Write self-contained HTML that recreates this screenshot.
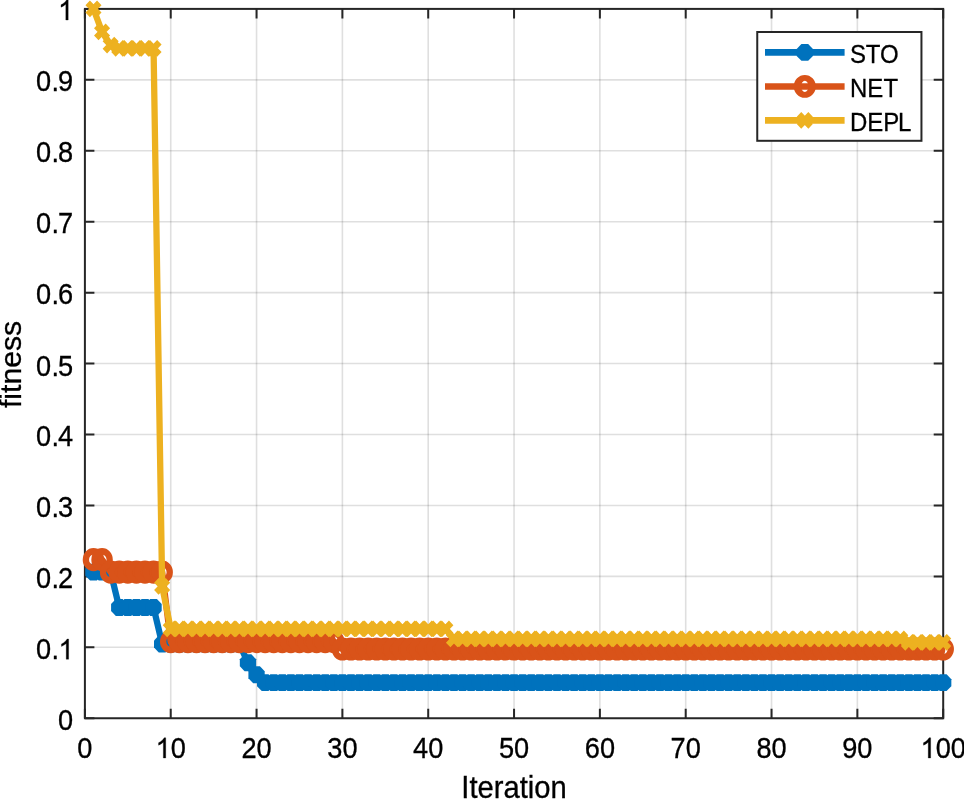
<!DOCTYPE html>
<html><head><meta charset="utf-8"><style>
html,body{margin:0;padding:0;background:#fff;width:964px;height:799px;overflow:hidden}
svg{display:block;will-change:transform;font-family:"Liberation Sans",sans-serif}
</style></head><body>
<svg width="964" height="799" viewBox="0 0 964 799">
<rect width="964" height="799" fill="#fff"/>
<path d="M170.73 8.90V718.25M256.56 8.90V718.25M342.39 8.90V718.25M428.22 8.90V718.25M514.05 8.90V718.25M599.88 8.90V718.25M685.71 8.90V718.25M771.54 8.90V718.25M857.37 8.90V718.25" stroke="#262626" stroke-opacity="0.15" stroke-width="1.6" fill="none"/>
<path d="M84.90 647.32H943.20M84.90 576.38H943.20M84.90 505.44H943.20M84.90 434.51H943.20M84.90 363.57H943.20M84.90 292.64H943.20M84.90 221.71H943.20M84.90 150.77H943.20M84.90 79.83H943.20" stroke="#262626" stroke-opacity="0.15" stroke-width="1.6" fill="none"/>
<defs>
<polygon id="mo" points="8.150,3.376 3.376,8.150 -3.376,8.150 -8.150,3.376 -8.150,-3.376 -3.376,-8.150 3.376,-8.150 8.150,-3.376" fill="#0072BD"/>
<ellipse id="mc" rx="7.6" ry="8.0" fill="none" stroke="#D95319" stroke-width="6.3"/>
<path id="mx" d="M-5.8 -5.8L5.8 5.8M-5.8 5.8L5.8 -5.8" stroke="#EDB120" stroke-width="6.3" fill="none"/>
<path id="mcl" fill="#D95319" fill-rule="evenodd" d="M-11 0a11 10.962 0 1 0 22 0a11 10.962 0 1 0 -22 0ZM-3.7 0a3.7 5.385 0 1 0 7.4 0a3.7 5.385 0 1 0 -7.4 0Z"/>
</defs>
<rect x="84.90" y="8.90" width="858.30" height="709.35" fill="none" stroke="#262626" stroke-width="2"/>
<path d="M84.90 718.25v-9.5M84.90 8.90v9.5M170.73 718.25v-9.5M170.73 8.90v9.5M256.56 718.25v-9.5M256.56 8.90v9.5M342.39 718.25v-9.5M342.39 8.90v9.5M428.22 718.25v-9.5M428.22 8.90v9.5M514.05 718.25v-9.5M514.05 8.90v9.5M599.88 718.25v-9.5M599.88 8.90v9.5M685.71 718.25v-9.5M685.71 8.90v9.5M771.54 718.25v-9.5M771.54 8.90v9.5M857.37 718.25v-9.5M857.37 8.90v9.5M943.20 718.25v-9.5M943.20 8.90v9.5M84.90 718.25h9.5M943.20 718.25h-9.5M84.90 647.32h9.5M943.20 647.32h-9.5M84.90 576.38h9.5M943.20 576.38h-9.5M84.90 505.44h9.5M943.20 505.44h-9.5M84.90 434.51h9.5M943.20 434.51h-9.5M84.90 363.57h9.5M943.20 363.57h-9.5M84.90 292.64h9.5M943.20 292.64h-9.5M84.90 221.71h9.5M943.20 221.71h-9.5M84.90 150.77h9.5M943.20 150.77h-9.5M84.90 79.83h9.5M943.20 79.83h-9.5M84.90 8.90h9.5M943.20 8.90h-9.5" stroke="#262626" stroke-width="2" fill="none"/>
<g transform="scale(1 1.04)">
<polyline points="93.48,550.12 102.07,550.12 110.65,550.12 119.23,584.15 127.81,584.15 136.40,584.15 144.98,584.15 153.56,584.15 162.15,619.14 170.73,619.14 179.31,619.14 187.90,619.14 196.48,619.14 205.06,619.14 213.65,619.14 222.23,619.14 230.81,619.14 239.39,619.14 247.98,637.29 256.56,648.81 265.14,656.39 273.73,656.39 282.31,656.39 290.89,656.39 299.48,656.39 308.06,656.39 316.64,656.39 325.22,656.39 333.81,656.39 342.39,656.39 350.97,656.39 359.56,656.39 368.14,656.39 376.72,656.39 385.31,656.39 393.89,656.39 402.47,656.39 411.05,656.39 419.64,656.39 428.22,656.39 436.80,656.39 445.39,656.39 453.97,656.39 462.55,656.39 471.13,656.39 479.72,656.39 488.30,656.39 496.88,656.39 505.47,656.39 514.05,656.39 522.63,656.39 531.22,656.39 539.80,656.39 548.38,656.39 556.97,656.39 565.55,656.39 574.13,656.39 582.71,656.39 591.30,656.39 599.88,656.39 608.46,656.39 617.05,656.39 625.63,656.39 634.21,656.39 642.80,656.39 651.38,656.39 659.96,656.39 668.54,656.39 677.13,656.39 685.71,656.39 694.29,656.39 702.88,656.39 711.46,656.39 720.04,656.39 728.62,656.39 737.21,656.39 745.79,656.39 754.37,656.39 762.96,656.39 771.54,656.39 780.12,656.39 788.71,656.39 797.29,656.39 805.87,656.39 814.45,656.39 823.04,656.39 831.62,656.39 840.20,656.39 848.79,656.39 857.37,656.39 865.95,656.39 874.54,656.39 883.12,656.39 891.70,656.39 900.28,656.39 908.87,656.39 917.45,656.39 926.03,656.39 934.62,656.39 943.20,656.39" fill="none" stroke="#0072BD" stroke-width="6.3" stroke-linejoin="round"/>
<use href="#mo" x="93.48" y="550.12"/>
<use href="#mo" x="102.07" y="550.12"/>
<use href="#mo" x="110.65" y="550.12"/>
<use href="#mo" x="119.23" y="584.15"/>
<use href="#mo" x="127.81" y="584.15"/>
<use href="#mo" x="136.40" y="584.15"/>
<use href="#mo" x="144.98" y="584.15"/>
<use href="#mo" x="153.56" y="584.15"/>
<use href="#mo" x="162.15" y="619.14"/>
<use href="#mo" x="170.73" y="619.14"/>
<use href="#mo" x="179.31" y="619.14"/>
<use href="#mo" x="187.90" y="619.14"/>
<use href="#mo" x="196.48" y="619.14"/>
<use href="#mo" x="205.06" y="619.14"/>
<use href="#mo" x="213.65" y="619.14"/>
<use href="#mo" x="222.23" y="619.14"/>
<use href="#mo" x="230.81" y="619.14"/>
<use href="#mo" x="239.39" y="619.14"/>
<use href="#mo" x="247.98" y="637.29"/>
<use href="#mo" x="256.56" y="648.81"/>
<use href="#mo" x="265.14" y="656.39"/>
<use href="#mo" x="273.73" y="656.39"/>
<use href="#mo" x="282.31" y="656.39"/>
<use href="#mo" x="290.89" y="656.39"/>
<use href="#mo" x="299.48" y="656.39"/>
<use href="#mo" x="308.06" y="656.39"/>
<use href="#mo" x="316.64" y="656.39"/>
<use href="#mo" x="325.22" y="656.39"/>
<use href="#mo" x="333.81" y="656.39"/>
<use href="#mo" x="342.39" y="656.39"/>
<use href="#mo" x="350.97" y="656.39"/>
<use href="#mo" x="359.56" y="656.39"/>
<use href="#mo" x="368.14" y="656.39"/>
<use href="#mo" x="376.72" y="656.39"/>
<use href="#mo" x="385.31" y="656.39"/>
<use href="#mo" x="393.89" y="656.39"/>
<use href="#mo" x="402.47" y="656.39"/>
<use href="#mo" x="411.05" y="656.39"/>
<use href="#mo" x="419.64" y="656.39"/>
<use href="#mo" x="428.22" y="656.39"/>
<use href="#mo" x="436.80" y="656.39"/>
<use href="#mo" x="445.39" y="656.39"/>
<use href="#mo" x="453.97" y="656.39"/>
<use href="#mo" x="462.55" y="656.39"/>
<use href="#mo" x="471.13" y="656.39"/>
<use href="#mo" x="479.72" y="656.39"/>
<use href="#mo" x="488.30" y="656.39"/>
<use href="#mo" x="496.88" y="656.39"/>
<use href="#mo" x="505.47" y="656.39"/>
<use href="#mo" x="514.05" y="656.39"/>
<use href="#mo" x="522.63" y="656.39"/>
<use href="#mo" x="531.22" y="656.39"/>
<use href="#mo" x="539.80" y="656.39"/>
<use href="#mo" x="548.38" y="656.39"/>
<use href="#mo" x="556.97" y="656.39"/>
<use href="#mo" x="565.55" y="656.39"/>
<use href="#mo" x="574.13" y="656.39"/>
<use href="#mo" x="582.71" y="656.39"/>
<use href="#mo" x="591.30" y="656.39"/>
<use href="#mo" x="599.88" y="656.39"/>
<use href="#mo" x="608.46" y="656.39"/>
<use href="#mo" x="617.05" y="656.39"/>
<use href="#mo" x="625.63" y="656.39"/>
<use href="#mo" x="634.21" y="656.39"/>
<use href="#mo" x="642.80" y="656.39"/>
<use href="#mo" x="651.38" y="656.39"/>
<use href="#mo" x="659.96" y="656.39"/>
<use href="#mo" x="668.54" y="656.39"/>
<use href="#mo" x="677.13" y="656.39"/>
<use href="#mo" x="685.71" y="656.39"/>
<use href="#mo" x="694.29" y="656.39"/>
<use href="#mo" x="702.88" y="656.39"/>
<use href="#mo" x="711.46" y="656.39"/>
<use href="#mo" x="720.04" y="656.39"/>
<use href="#mo" x="728.62" y="656.39"/>
<use href="#mo" x="737.21" y="656.39"/>
<use href="#mo" x="745.79" y="656.39"/>
<use href="#mo" x="754.37" y="656.39"/>
<use href="#mo" x="762.96" y="656.39"/>
<use href="#mo" x="771.54" y="656.39"/>
<use href="#mo" x="780.12" y="656.39"/>
<use href="#mo" x="788.71" y="656.39"/>
<use href="#mo" x="797.29" y="656.39"/>
<use href="#mo" x="805.87" y="656.39"/>
<use href="#mo" x="814.45" y="656.39"/>
<use href="#mo" x="823.04" y="656.39"/>
<use href="#mo" x="831.62" y="656.39"/>
<use href="#mo" x="840.20" y="656.39"/>
<use href="#mo" x="848.79" y="656.39"/>
<use href="#mo" x="857.37" y="656.39"/>
<use href="#mo" x="865.95" y="656.39"/>
<use href="#mo" x="874.54" y="656.39"/>
<use href="#mo" x="883.12" y="656.39"/>
<use href="#mo" x="891.70" y="656.39"/>
<use href="#mo" x="900.28" y="656.39"/>
<use href="#mo" x="908.87" y="656.39"/>
<use href="#mo" x="917.45" y="656.39"/>
<use href="#mo" x="926.03" y="656.39"/>
<use href="#mo" x="934.62" y="656.39"/>
<use href="#mo" x="943.20" y="656.39"/>
<polyline points="93.48,538.18 102.07,538.18 110.65,550.19 119.23,550.19 127.81,550.19 136.40,550.19 144.98,550.19 153.56,550.19 162.15,550.19 170.73,616.89 179.31,616.89 187.90,616.89 196.48,616.89 205.06,616.89 213.65,616.89 222.23,616.89 230.81,616.89 239.39,616.89 247.98,616.89 256.56,616.89 265.14,616.89 273.73,616.89 282.31,616.89 290.89,616.89 299.48,616.89 308.06,616.89 316.64,616.89 325.22,616.89 333.81,616.89 342.39,624.06 350.97,624.06 359.56,624.06 368.14,624.06 376.72,624.06 385.31,624.06 393.89,624.06 402.47,624.06 411.05,624.06 419.64,624.06 428.22,624.06 436.80,624.06 445.39,624.06 453.97,624.06 462.55,624.06 471.13,624.06 479.72,624.06 488.30,624.06 496.88,624.06 505.47,624.06 514.05,624.06 522.63,624.06 531.22,624.06 539.80,624.06 548.38,624.06 556.97,624.06 565.55,624.06 574.13,624.06 582.71,624.06 591.30,624.06 599.88,624.06 608.46,624.06 617.05,624.06 625.63,624.06 634.21,624.06 642.80,624.06 651.38,624.06 659.96,624.06 668.54,624.06 677.13,624.06 685.71,624.06 694.29,624.06 702.88,624.06 711.46,624.06 720.04,624.06 728.62,624.06 737.21,624.06 745.79,624.06 754.37,624.06 762.96,624.06 771.54,624.06 780.12,624.06 788.71,624.06 797.29,624.06 805.87,624.06 814.45,624.06 823.04,624.06 831.62,624.06 840.20,624.06 848.79,624.06 857.37,624.06 865.95,624.06 874.54,624.06 883.12,624.06 891.70,624.06 900.28,624.06 908.87,624.06 917.45,624.06 926.03,624.06 934.62,624.06 943.20,624.06" fill="none" stroke="#D95319" stroke-width="6.3" stroke-linejoin="round"/>
<use href="#mc" x="93.48" y="538.18"/>
<use href="#mc" x="102.07" y="538.18"/>
<use href="#mc" x="110.65" y="550.19"/>
<use href="#mc" x="119.23" y="550.19"/>
<use href="#mc" x="127.81" y="550.19"/>
<use href="#mc" x="136.40" y="550.19"/>
<use href="#mc" x="144.98" y="550.19"/>
<use href="#mc" x="153.56" y="550.19"/>
<use href="#mc" x="162.15" y="550.19"/>
<use href="#mc" x="170.73" y="616.89"/>
<use href="#mc" x="179.31" y="616.89"/>
<use href="#mc" x="187.90" y="616.89"/>
<use href="#mc" x="196.48" y="616.89"/>
<use href="#mc" x="205.06" y="616.89"/>
<use href="#mc" x="213.65" y="616.89"/>
<use href="#mc" x="222.23" y="616.89"/>
<use href="#mc" x="230.81" y="616.89"/>
<use href="#mc" x="239.39" y="616.89"/>
<use href="#mc" x="247.98" y="616.89"/>
<use href="#mc" x="256.56" y="616.89"/>
<use href="#mc" x="265.14" y="616.89"/>
<use href="#mc" x="273.73" y="616.89"/>
<use href="#mc" x="282.31" y="616.89"/>
<use href="#mc" x="290.89" y="616.89"/>
<use href="#mc" x="299.48" y="616.89"/>
<use href="#mc" x="308.06" y="616.89"/>
<use href="#mc" x="316.64" y="616.89"/>
<use href="#mc" x="325.22" y="616.89"/>
<use href="#mc" x="333.81" y="616.89"/>
<use href="#mc" x="342.39" y="624.06"/>
<use href="#mc" x="350.97" y="624.06"/>
<use href="#mc" x="359.56" y="624.06"/>
<use href="#mc" x="368.14" y="624.06"/>
<use href="#mc" x="376.72" y="624.06"/>
<use href="#mc" x="385.31" y="624.06"/>
<use href="#mc" x="393.89" y="624.06"/>
<use href="#mc" x="402.47" y="624.06"/>
<use href="#mc" x="411.05" y="624.06"/>
<use href="#mc" x="419.64" y="624.06"/>
<use href="#mc" x="428.22" y="624.06"/>
<use href="#mc" x="436.80" y="624.06"/>
<use href="#mc" x="445.39" y="624.06"/>
<use href="#mc" x="453.97" y="624.06"/>
<use href="#mc" x="462.55" y="624.06"/>
<use href="#mc" x="471.13" y="624.06"/>
<use href="#mc" x="479.72" y="624.06"/>
<use href="#mc" x="488.30" y="624.06"/>
<use href="#mc" x="496.88" y="624.06"/>
<use href="#mc" x="505.47" y="624.06"/>
<use href="#mc" x="514.05" y="624.06"/>
<use href="#mc" x="522.63" y="624.06"/>
<use href="#mc" x="531.22" y="624.06"/>
<use href="#mc" x="539.80" y="624.06"/>
<use href="#mc" x="548.38" y="624.06"/>
<use href="#mc" x="556.97" y="624.06"/>
<use href="#mc" x="565.55" y="624.06"/>
<use href="#mc" x="574.13" y="624.06"/>
<use href="#mc" x="582.71" y="624.06"/>
<use href="#mc" x="591.30" y="624.06"/>
<use href="#mc" x="599.88" y="624.06"/>
<use href="#mc" x="608.46" y="624.06"/>
<use href="#mc" x="617.05" y="624.06"/>
<use href="#mc" x="625.63" y="624.06"/>
<use href="#mc" x="634.21" y="624.06"/>
<use href="#mc" x="642.80" y="624.06"/>
<use href="#mc" x="651.38" y="624.06"/>
<use href="#mc" x="659.96" y="624.06"/>
<use href="#mc" x="668.54" y="624.06"/>
<use href="#mc" x="677.13" y="624.06"/>
<use href="#mc" x="685.71" y="624.06"/>
<use href="#mc" x="694.29" y="624.06"/>
<use href="#mc" x="702.88" y="624.06"/>
<use href="#mc" x="711.46" y="624.06"/>
<use href="#mc" x="720.04" y="624.06"/>
<use href="#mc" x="728.62" y="624.06"/>
<use href="#mc" x="737.21" y="624.06"/>
<use href="#mc" x="745.79" y="624.06"/>
<use href="#mc" x="754.37" y="624.06"/>
<use href="#mc" x="762.96" y="624.06"/>
<use href="#mc" x="771.54" y="624.06"/>
<use href="#mc" x="780.12" y="624.06"/>
<use href="#mc" x="788.71" y="624.06"/>
<use href="#mc" x="797.29" y="624.06"/>
<use href="#mc" x="805.87" y="624.06"/>
<use href="#mc" x="814.45" y="624.06"/>
<use href="#mc" x="823.04" y="624.06"/>
<use href="#mc" x="831.62" y="624.06"/>
<use href="#mc" x="840.20" y="624.06"/>
<use href="#mc" x="848.79" y="624.06"/>
<use href="#mc" x="857.37" y="624.06"/>
<use href="#mc" x="865.95" y="624.06"/>
<use href="#mc" x="874.54" y="624.06"/>
<use href="#mc" x="883.12" y="624.06"/>
<use href="#mc" x="891.70" y="624.06"/>
<use href="#mc" x="900.28" y="624.06"/>
<use href="#mc" x="908.87" y="624.06"/>
<use href="#mc" x="917.45" y="624.06"/>
<use href="#mc" x="926.03" y="624.06"/>
<use href="#mc" x="934.62" y="624.06"/>
<use href="#mc" x="943.20" y="624.06"/>
<polyline points="93.48,8.56 102.07,30.66 110.65,43.34 119.23,46.48 127.81,46.48 136.40,46.48 144.98,46.48 153.56,46.48 162.15,563.83 170.73,604.75 179.31,604.75 187.90,604.75 196.48,604.75 205.06,604.75 213.65,604.75 222.23,604.75 230.81,604.75 239.39,604.75 247.98,604.75 256.56,604.75 265.14,604.75 273.73,604.75 282.31,604.75 290.89,604.75 299.48,604.75 308.06,604.75 316.64,604.75 325.22,604.75 333.81,604.75 342.39,604.75 350.97,604.75 359.56,604.75 368.14,604.75 376.72,604.75 385.31,604.75 393.89,604.75 402.47,604.75 411.05,604.75 419.64,604.75 428.22,604.75 436.80,604.75 445.39,604.75 453.97,614.37 462.55,614.37 471.13,614.37 479.72,614.37 488.30,614.37 496.88,614.37 505.47,614.37 514.05,614.37 522.63,614.37 531.22,614.37 539.80,614.37 548.38,614.37 556.97,614.37 565.55,614.37 574.13,614.37 582.71,614.37 591.30,614.37 599.88,614.37 608.46,614.37 617.05,614.37 625.63,614.37 634.21,614.37 642.80,614.37 651.38,614.37 659.96,614.37 668.54,614.37 677.13,614.37 685.71,614.37 694.29,614.37 702.88,614.37 711.46,614.37 720.04,614.37 728.62,614.37 737.21,614.37 745.79,614.37 754.37,614.37 762.96,614.37 771.54,614.37 780.12,614.37 788.71,614.37 797.29,614.37 805.87,614.37 814.45,614.37 823.04,614.37 831.62,614.37 840.20,614.37 848.79,614.37 857.37,614.37 865.95,614.37 874.54,614.37 883.12,614.37 891.70,614.37 900.28,614.37 908.87,617.58 917.45,617.58 926.03,617.58 934.62,617.58 943.20,617.58" fill="none" stroke="#EDB120" stroke-width="6.3" stroke-linejoin="round"/>
<use href="#mx" x="93.48" y="8.56"/>
<use href="#mx" x="102.07" y="30.66"/>
<use href="#mx" x="110.65" y="43.34"/>
<use href="#mx" x="119.23" y="46.48"/>
<use href="#mx" x="127.81" y="46.48"/>
<use href="#mx" x="136.40" y="46.48"/>
<use href="#mx" x="144.98" y="46.48"/>
<use href="#mx" x="153.56" y="46.48"/>
<use href="#mx" x="162.15" y="563.83"/>
<use href="#mx" x="170.73" y="604.75"/>
<use href="#mx" x="179.31" y="604.75"/>
<use href="#mx" x="187.90" y="604.75"/>
<use href="#mx" x="196.48" y="604.75"/>
<use href="#mx" x="205.06" y="604.75"/>
<use href="#mx" x="213.65" y="604.75"/>
<use href="#mx" x="222.23" y="604.75"/>
<use href="#mx" x="230.81" y="604.75"/>
<use href="#mx" x="239.39" y="604.75"/>
<use href="#mx" x="247.98" y="604.75"/>
<use href="#mx" x="256.56" y="604.75"/>
<use href="#mx" x="265.14" y="604.75"/>
<use href="#mx" x="273.73" y="604.75"/>
<use href="#mx" x="282.31" y="604.75"/>
<use href="#mx" x="290.89" y="604.75"/>
<use href="#mx" x="299.48" y="604.75"/>
<use href="#mx" x="308.06" y="604.75"/>
<use href="#mx" x="316.64" y="604.75"/>
<use href="#mx" x="325.22" y="604.75"/>
<use href="#mx" x="333.81" y="604.75"/>
<use href="#mx" x="342.39" y="604.75"/>
<use href="#mx" x="350.97" y="604.75"/>
<use href="#mx" x="359.56" y="604.75"/>
<use href="#mx" x="368.14" y="604.75"/>
<use href="#mx" x="376.72" y="604.75"/>
<use href="#mx" x="385.31" y="604.75"/>
<use href="#mx" x="393.89" y="604.75"/>
<use href="#mx" x="402.47" y="604.75"/>
<use href="#mx" x="411.05" y="604.75"/>
<use href="#mx" x="419.64" y="604.75"/>
<use href="#mx" x="428.22" y="604.75"/>
<use href="#mx" x="436.80" y="604.75"/>
<use href="#mx" x="445.39" y="604.75"/>
<use href="#mx" x="453.97" y="614.37"/>
<use href="#mx" x="462.55" y="614.37"/>
<use href="#mx" x="471.13" y="614.37"/>
<use href="#mx" x="479.72" y="614.37"/>
<use href="#mx" x="488.30" y="614.37"/>
<use href="#mx" x="496.88" y="614.37"/>
<use href="#mx" x="505.47" y="614.37"/>
<use href="#mx" x="514.05" y="614.37"/>
<use href="#mx" x="522.63" y="614.37"/>
<use href="#mx" x="531.22" y="614.37"/>
<use href="#mx" x="539.80" y="614.37"/>
<use href="#mx" x="548.38" y="614.37"/>
<use href="#mx" x="556.97" y="614.37"/>
<use href="#mx" x="565.55" y="614.37"/>
<use href="#mx" x="574.13" y="614.37"/>
<use href="#mx" x="582.71" y="614.37"/>
<use href="#mx" x="591.30" y="614.37"/>
<use href="#mx" x="599.88" y="614.37"/>
<use href="#mx" x="608.46" y="614.37"/>
<use href="#mx" x="617.05" y="614.37"/>
<use href="#mx" x="625.63" y="614.37"/>
<use href="#mx" x="634.21" y="614.37"/>
<use href="#mx" x="642.80" y="614.37"/>
<use href="#mx" x="651.38" y="614.37"/>
<use href="#mx" x="659.96" y="614.37"/>
<use href="#mx" x="668.54" y="614.37"/>
<use href="#mx" x="677.13" y="614.37"/>
<use href="#mx" x="685.71" y="614.37"/>
<use href="#mx" x="694.29" y="614.37"/>
<use href="#mx" x="702.88" y="614.37"/>
<use href="#mx" x="711.46" y="614.37"/>
<use href="#mx" x="720.04" y="614.37"/>
<use href="#mx" x="728.62" y="614.37"/>
<use href="#mx" x="737.21" y="614.37"/>
<use href="#mx" x="745.79" y="614.37"/>
<use href="#mx" x="754.37" y="614.37"/>
<use href="#mx" x="762.96" y="614.37"/>
<use href="#mx" x="771.54" y="614.37"/>
<use href="#mx" x="780.12" y="614.37"/>
<use href="#mx" x="788.71" y="614.37"/>
<use href="#mx" x="797.29" y="614.37"/>
<use href="#mx" x="805.87" y="614.37"/>
<use href="#mx" x="814.45" y="614.37"/>
<use href="#mx" x="823.04" y="614.37"/>
<use href="#mx" x="831.62" y="614.37"/>
<use href="#mx" x="840.20" y="614.37"/>
<use href="#mx" x="848.79" y="614.37"/>
<use href="#mx" x="857.37" y="614.37"/>
<use href="#mx" x="865.95" y="614.37"/>
<use href="#mx" x="874.54" y="614.37"/>
<use href="#mx" x="883.12" y="614.37"/>
<use href="#mx" x="891.70" y="614.37"/>
<use href="#mx" x="900.28" y="614.37"/>
<use href="#mx" x="908.87" y="617.58"/>
<use href="#mx" x="917.45" y="617.58"/>
<use href="#mx" x="926.03" y="617.58"/>
<use href="#mx" x="934.62" y="617.58"/>
<use href="#mx" x="943.20" y="617.58"/>
</g>
<g fill="#000" stroke="#000" stroke-width="0.3">
<text transform="translate(77.34 758.00) scale(1 1.065)" font-size="27.2">0</text>
<path vector-effect="non-scaling-stroke" d="M763 0L583 0L583 1147Q518 1085 415 1024Q312 963 223 930L223 1104Q374 1175 485 1274Q597 1374 647 1466L763 1466Z" transform="translate(155.60 758.00) scale(0.01328 -0.01379)"/><text transform="translate(170.73 758.00) scale(1 1.065)" font-size="27.2">0</text>
<text transform="translate(241.43 758.00) scale(1 1.065)" font-size="27.2">2</text><text transform="translate(256.56 758.00) scale(1 1.065)" font-size="27.2">0</text>
<text transform="translate(327.26 758.00) scale(1 1.065)" font-size="27.2">3</text><text transform="translate(342.39 758.00) scale(1 1.065)" font-size="27.2">0</text>
<text transform="translate(413.09 758.00) scale(1 1.065)" font-size="27.2">4</text><text transform="translate(428.22 758.00) scale(1 1.065)" font-size="27.2">0</text>
<text transform="translate(498.92 758.00) scale(1 1.065)" font-size="27.2">5</text><text transform="translate(514.05 758.00) scale(1 1.065)" font-size="27.2">0</text>
<text transform="translate(584.75 758.00) scale(1 1.065)" font-size="27.2">6</text><text transform="translate(599.88 758.00) scale(1 1.065)" font-size="27.2">0</text>
<text transform="translate(670.58 758.00) scale(1 1.065)" font-size="27.2">7</text><text transform="translate(685.71 758.00) scale(1 1.065)" font-size="27.2">0</text>
<text transform="translate(756.41 758.00) scale(1 1.065)" font-size="27.2">8</text><text transform="translate(771.54 758.00) scale(1 1.065)" font-size="27.2">0</text>
<text transform="translate(842.24 758.00) scale(1 1.065)" font-size="27.2">9</text><text transform="translate(857.37 758.00) scale(1 1.065)" font-size="27.2">0</text>
<path vector-effect="non-scaling-stroke" d="M763 0L583 0L583 1147Q518 1085 415 1024Q312 963 223 930L223 1104Q374 1175 485 1274Q597 1374 647 1466L763 1466Z" transform="translate(920.51 758.00) scale(0.01328 -0.01379)"/><text transform="translate(935.64 758.00) scale(1 1.065)" font-size="27.2">0</text><text transform="translate(950.76 758.00) scale(1 1.065)" font-size="27.2">0</text>
<text transform="translate(58.07 730.15) scale(1 1.065)" font-size="27.2">0</text>
<text transform="translate(36.00 659.22) scale(1 1.065)" font-size="27.2">0</text><text transform="translate(51.50 659.22) scale(1 1.065)" font-size="27.2">.</text><path vector-effect="non-scaling-stroke" d="M763 0L583 0L583 1147Q518 1085 415 1024Q312 963 223 930L223 1104Q374 1175 485 1274Q597 1374 647 1466L763 1466Z" transform="translate(58.50 659.22) scale(0.01328 -0.01379)"/>
<text transform="translate(36.00 588.38) scale(1 1.065)" font-size="27.2">0</text><text transform="translate(51.50 588.38) scale(1 1.065)" font-size="27.2">.</text><text transform="translate(58.00 588.38) scale(1 1.065)" font-size="27.2">2</text>
<text transform="translate(36.00 517.45) scale(1 1.065)" font-size="27.2">0</text><text transform="translate(51.50 517.45) scale(1 1.065)" font-size="27.2">.</text><text transform="translate(58.00 517.45) scale(1 1.065)" font-size="27.2">3</text>
<text transform="translate(36.00 446.31) scale(1 1.065)" font-size="27.2">0</text><text transform="translate(51.50 446.31) scale(1 1.065)" font-size="27.2">.</text><text transform="translate(58.00 446.31) scale(1 1.065)" font-size="27.2">4</text>
<text transform="translate(36.00 375.68) scale(1 1.065)" font-size="27.2">0</text><text transform="translate(51.50 375.68) scale(1 1.065)" font-size="27.2">.</text><text transform="translate(58.00 375.68) scale(1 1.065)" font-size="27.2">5</text>
<text transform="translate(36.00 303.64) scale(1 1.065)" font-size="27.2">0</text><text transform="translate(51.50 303.64) scale(1 1.065)" font-size="27.2">.</text><text transform="translate(58.00 303.64) scale(1 1.065)" font-size="27.2">6</text>
<text transform="translate(36.00 232.71) scale(1 1.065)" font-size="27.2">0</text><text transform="translate(51.50 232.71) scale(1 1.065)" font-size="27.2">.</text><text transform="translate(58.00 232.71) scale(1 1.065)" font-size="27.2">7</text>
<text transform="translate(36.00 161.87) scale(1 1.065)" font-size="27.2">0</text><text transform="translate(51.50 161.87) scale(1 1.065)" font-size="27.2">.</text><text transform="translate(58.00 161.87) scale(1 1.065)" font-size="27.2">8</text>
<text transform="translate(36.00 90.93) scale(1 1.065)" font-size="27.2">0</text><text transform="translate(51.50 90.93) scale(1 1.065)" font-size="27.2">.</text><text transform="translate(58.00 90.93) scale(1 1.065)" font-size="27.2">9</text>
<path vector-effect="non-scaling-stroke" d="M763 0L583 0L583 1147Q518 1085 415 1024Q312 963 223 930L223 1104Q374 1175 485 1274Q597 1374 647 1466L763 1466Z" transform="translate(58.07 20.00) scale(0.01328 -0.01379)"/>
</g>
<text transform="translate(461.3 797.8) scale(1 1.07)" font-size="29.2" fill="#000" stroke="#000" stroke-width="0.3">Iteration</text>
<text transform="translate(20.6 408.1) rotate(-90)" font-size="30.2" fill="#000" stroke="#000" stroke-width="0.3">fitness</text>
<rect x="757.25" y="32" width="164.2" height="108.8" fill="#fff" stroke="#262626" stroke-width="2"/>
<g transform="scale(1 1.04)">
<path d="M765 50.38H844.6" stroke="#0072BD" stroke-width="6.3"/>
<use href="#mo" x="804.8" y="50.38"/>
<path d="M765 83.08H844.6" stroke="#D95319" stroke-width="6.3"/>
<use href="#mcl" x="804.8" y="83.08"/>
<path d="M765 115.77H844.6" stroke="#EDB120" stroke-width="6.3"/>
<use href="#mx" x="804.8" y="115.77"/>
</g>
<text transform="translate(0 62.70) scale(1 1.06)" x="850.1 865.7 880.0" font-size="24" fill="#000" stroke="#000" stroke-width="0.25">STO</text>
<text transform="translate(0 96.70) scale(1 1.06)" x="850.0 867.2 883.6" font-size="24" fill="#000" stroke="#000" stroke-width="0.25">NET</text>
<text transform="translate(0 130.70) scale(1 1.06)" x="850.0 867.2 883.2 898.1" font-size="24" fill="#000" stroke="#000" stroke-width="0.25">DEPL</text>
</svg>
</body></html>
